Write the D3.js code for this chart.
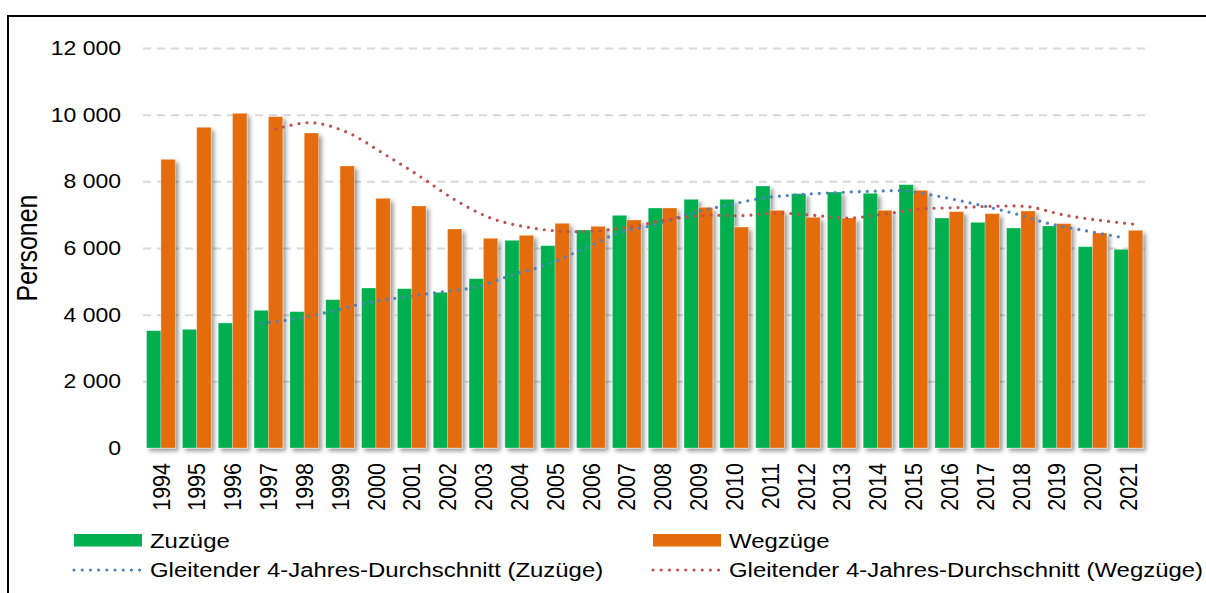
<!DOCTYPE html>
<meta charset='utf-8'>
<style>
	body { margin: 0; background: #fff; }
	svg text { font-family: 'Liberation Sans', Arial, sans-serif; fill: #000; }
</style>
<body>
	<div id='container'></div>
<script src='https://d3js.org/d3.v7.min.js'></script>
<script>
	const years = ['1994', '1995', '1996', '1997', '1998', '1999', '2000', '2001', '2002', '2003',
		'2004', '2005', '2006', '2007', '2008', '2009', '2010', '2011', '2012', '2013',
		'2014', '2015', '2016', '2017', '2018', '2019', '2020', '2021'];

	const zuzuege = [3520, 3560, 3750, 4130, 4090, 4450, 4800, 4780, 4670, 5080,
		6230, 6070, 6540, 6980, 7200, 7460, 7460, 7860, 7630, 7680,
		7640, 7900, 6900, 6770, 6600, 6660, 6040, 5960];

	const wegzuege = [8660, 9620, 10040, 9940, 9450, 8460, 7490, 7260, 6570, 6290,
		6380, 6740, 6650, 6840, 7200, 7220, 6630, 7130, 6920, 6900,
		7130, 7730, 7090, 7030, 7110, 6730, 6450, 6530];

	// moving averages (start in 1997)
	const avgZuzuege = [null, null, null, 3740, 3880, 4110, 4370, 4530, 4680, 4830,
		5190, 5510, 5980, 6460, 6700, 7050, 7280, 7500, 7600, 7660,
		7700, 7710, 7530, 7300, 7040, 6730, 6520, 6320];

	const avgWegzuege = [null, null, null, 9570, 9760, 9470, 8840, 8170, 7450, 6900,
		6630, 6500, 6520, 6650, 6860, 6980, 6970, 7050, 6980, 6900,
		7020, 7170, 7210, 7250, 7240, 6990, 6830, 6710];

	const yTicks = [0, 2000, 4000, 6000, 8000, 10000, 12000];
	const seriesNames = ['Zuzüge', 'Wegzüge'];
	const avgNames = ['Gleitender 4-Jahres-Durchschnitt (Zuzüge)', 'Gleitender 4-Jahres-Durchschnitt (Wegzüge)'];
	const barColors = ['#00B050', '#E46C0A'];
	const lineColors = ['#4F81BD', '#C0504D'];

	const W = 1206, H = 593;
	const plot = { left: 143, right: 1146.3, top: 48, bottom: 448 };
	const sx = 1.15; // the picture is a bit wider than tall

	const fmt = d3.formatLocale( { decimal: ',', thousands: ' ', grouping: [3], currency: ['', ''] } ).format( ',' );

	let svg = d3.select( '#container' )
		.append( 'svg' )
		.attr( 'width', W )
		.attr( 'height', H );

	let defs = svg.append( 'defs' );
	defs.append( 'filter' )
		.attr( 'id', 'shadow' )
		.attr( 'x', '-20%' ).attr( 'y', '-20%' )
		.attr( 'width', '140%' ).attr( 'height', '140%' )
		.append( 'feDropShadow' )
			.attr( 'dx', 3 ).attr( 'dy', 3 )
			.attr( 'stdDeviation', 2 )
			.attr( 'flood-color', '#000' )
			.attr( 'flood-opacity', 0.4 );

	// outer frame
	svg.append( 'rect' )
		.attr( 'x', 8 ).attr( 'y', 16 )
		.attr( 'width', 1400 ).attr( 'height', 800 )
		.attr( 'fill', 'none' )
		.attr( 'stroke', '#000' )
		.attr( 'stroke-width', 2 );

	let x0 = d3.scaleBand()
		.domain( years )
		.range( [plot.left, plot.right] )
		.paddingInner( 0.2 )
		.paddingOuter( 0.1 );

	let x1 = d3.scaleBand()
		.domain( seriesNames )
		.range( [0, x0.bandwidth()] );

	let y = d3.scaleLinear()
		.domain( [0, 12000] )
		.range( [plot.bottom, plot.top] );

	// y axis with gridlines
	let yAxis = d3.axisLeft( y )
		.tickValues( yTicks )
		.tickFormat( fmt )
		.tickSizeInner( -(plot.right - plot.left) )
		.tickSizeOuter( 0 )
		.tickPadding( 19 );

	let yAxisEl = svg.append( 'g' )
		.attr( 'transform', `translate( ${plot.left}, 0 )` )
		.call( yAxis );
	yAxisEl.select( '.domain' ).remove();
	yAxisEl.selectAll( '.tick line' )
		.attr( 'stroke', '#D9D9D9' )
		.attr( 'stroke-width', 2 )
		.attr( 'stroke-dasharray', '8,6' )
		.filter( d => d === 0 ).remove();
	yAxisEl.selectAll( '.tick text' )
		.attr( 'font-size', 20 )
		.attr( 'transform', `scale( ${sx}, 1 )` );

	// bars
	let barData = years.map( ( yr, i ) => ( { year: yr, values: [zuzuege[i], wegzuege[i]] } ) );

	let bars = svg.append( 'g' )
		.attr( 'filter', 'url(#shadow)' );

	bars.selectAll( 'g' )
		.data( barData )
		.join( 'g' )
			.attr( 'transform', d => `translate( ${x0( d.year )}, 0 )` )
		.selectAll( 'rect' )
		.data( d => d.values.map( ( v, k ) => ( { name: seriesNames[k], value: v, k } ) ) )
		.join( 'rect' )
			.attr( 'x', d => x1( d.name ) )
			.attr( 'width', x1.bandwidth() )
			.attr( 'y', d => y( d.value ) )
			.attr( 'height', d => y( 0 ) - y( d.value ) )
			.attr( 'fill', d => barColors[d.k] )
			.attr( 'stroke', 'rgba(255,255,255,0.35)' )
			.attr( 'stroke-width', 0.8 );

	// baseline
	svg.append( 'line' )
		.attr( 'x1', plot.left ).attr( 'x2', plot.right )
		.attr( 'y1', y( 0 ) ).attr( 'y2', y( 0 ) )
		.attr( 'stroke', '#D9D9D9' )
		.attr( 'stroke-width', 2 )
		.attr( 'filter', 'url(#shadow)' );

	// x axis
	let xAxisEl = svg.append( 'g' )
		.attr( 'transform', `translate( 0, ${y( 0 )} )` )
		.call( d3.axisBottom( x0 ).tickSize( 0 ) );
	xAxisEl.select( '.domain' ).remove();
	xAxisEl.selectAll( '.tick text' )
		.attr( 'font-size', 21.5 )
		.attr( 'text-anchor', 'end' )
		.attr( 'x', -15 )
		.attr( 'y', 0 )
		.attr( 'dy', '0.35em' )
		.attr( 'transform', `scale( ${sx}, 1 ) rotate( -90 )` );

	// moving average lines
	const avgSeries = [avgZuzuege, avgWegzuege];
	avgSeries.forEach( ( vals, k ) => {
		let pts = years.map( ( yr, i ) => ( { year: yr, v: vals[i] } ) ).filter( d => d.v !== null );
		let line = d3.line()
			.x( d => x0( d.year ) + x1( seriesNames[k] ) + x1.bandwidth() / 2 )
			.y( d => y( d.v ) )
			.curve( d3.curveCatmullRom );
		svg.append( 'path' )
			.datum( pts )
			.attr( 'd', line )
			.attr( 'fill', 'none' )
			.attr( 'stroke', lineColors[k] )
			.attr( 'stroke-width', 3.2 )
			.attr( 'stroke-linecap', 'round' )
			.attr( 'stroke-dasharray', '0,8' );
	} );

	// y axis title
	svg.append( 'g' )
		.attr( 'transform', `translate( 37, 248 ) scale( ${sx}, 1 ) rotate( -90 )` )
		.append( 'text' )
			.attr( 'text-anchor', 'middle' )
			.attr( 'font-size', 25 )
			.text( 'Personen' );

	// legend
	const legendX = [74, 653];
	seriesNames.forEach( ( name, k ) => {
		svg.append( 'rect' )
			.attr( 'x', legendX[k] ).attr( 'y', 534 )
			.attr( 'width', 68 ).attr( 'height', 12.5 )
			.attr( 'fill', barColors[k] );
		svg.append( 'g' )
			.attr( 'transform', `translate( ${legendX[k] + 76}, 547.5 ) scale( ${sx}, 1 )` )
			.append( 'text' )
				.attr( 'font-size', 20.8 )
				.text( name );

		svg.append( 'line' )
			.attr( 'x1', legendX[k] ).attr( 'x2', legendX[k] + 67 )
			.attr( 'y1', 570 ).attr( 'y2', 570 )
			.attr( 'stroke', lineColors[k] )
			.attr( 'stroke-width', 3.2 )
			.attr( 'stroke-linecap', 'round' )
			.attr( 'stroke-dasharray', '0,8.2' );
		svg.append( 'g' )
			.attr( 'transform', `translate( ${legendX[k] + 76}, 577 ) scale( ${sx}, 1 )` )
			.append( 'text' )
				.attr( 'font-size', 20.8 )
				.text( avgNames[k] );
	} );
</script>
</body>
